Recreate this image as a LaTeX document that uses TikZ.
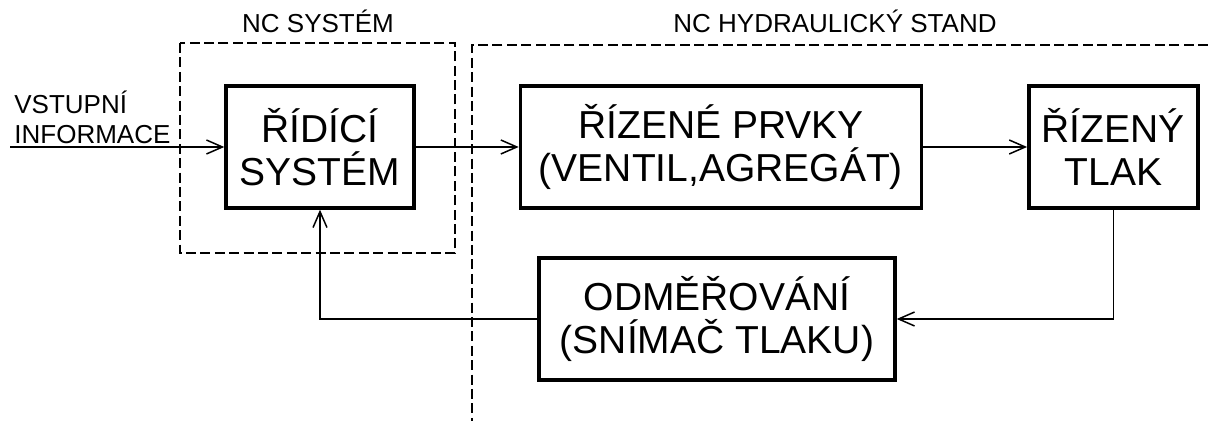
\documentclass[tikz,border=0pt]{standalone}
\usepackage{fontspec}
\setmainfont{Liberation Sans}
\usetikzlibrary{arrows.meta, positioning}

\begin{document}
\begin{tikzpicture}[x=0.5pt, y=-0.5pt,
    blok/.style={draw, line width=1.7pt, align=center, inner sep=2pt,
                 minimum height=61pt, font=\fontsize{19.5}{21.5}\selectfont},
    stitek/.style={font=\fontsize{13}{15}\selectfont, inner sep=0pt},
    sipka/.style={-{Straight Barb[length=8pt, width=7pt]}, line width=0.75pt},
    hranice/.style={line width=0.75pt, dash pattern=on 5pt off 2.2pt}]

  \useasboundingbox (0,0) rectangle (1208,421);

  % bloky
  \node[blok, minimum width=94pt] (ridici) at (320,147)
    {ŘÍDÍCÍ\\SYSTÉM};
  \node[blok, minimum width=200.5pt, right=51.5pt of ridici] (prvky)
    {ŘÍZENÉ PRVKY\\(VENTIL,AGREGÁT)};
  \node[blok, minimum width=84.5pt, right=52pt of prvky] (tlak)
    {ŘÍZENÝ\\TLAK};
  \node[blok, minimum width=178pt] (odmer) at (717,319)
    {ODMĚŘOVÁNÍ\\(SNÍMAČ TLAKU)};

  % hranice systemu
  \draw[hranice] (180,43) rectangle (455,253);
  \draw[hranice] (1208,45) -- (472,45) -- (472,421);
  \node[stitek, anchor=base] (ncsys) at (318,33) {NC SYSTÉM};
  \node[stitek, anchor=base] (ncstand) at (835,33) {NC HYDRAULICKÝ STAND};

  % vstup
  \coordinate (vstup) at (10,147);
  \node[stitek, anchor=south west, align=left] (vstupinfo) at (14,144)
    {VSTUPNÍ\\INFORMACE};

  % spojeni
  \draw[sipka] (vstup) -- (ridici);
  \draw[sipka] (ridici) -- (prvky);
  \draw[sipka] (prvky) -- (tlak);
  \draw[sipka] (tlak.south) |- (odmer.east);
  \draw[sipka] (odmer.west) -| (ridici.south);

\end{tikzpicture}
\end{document}
